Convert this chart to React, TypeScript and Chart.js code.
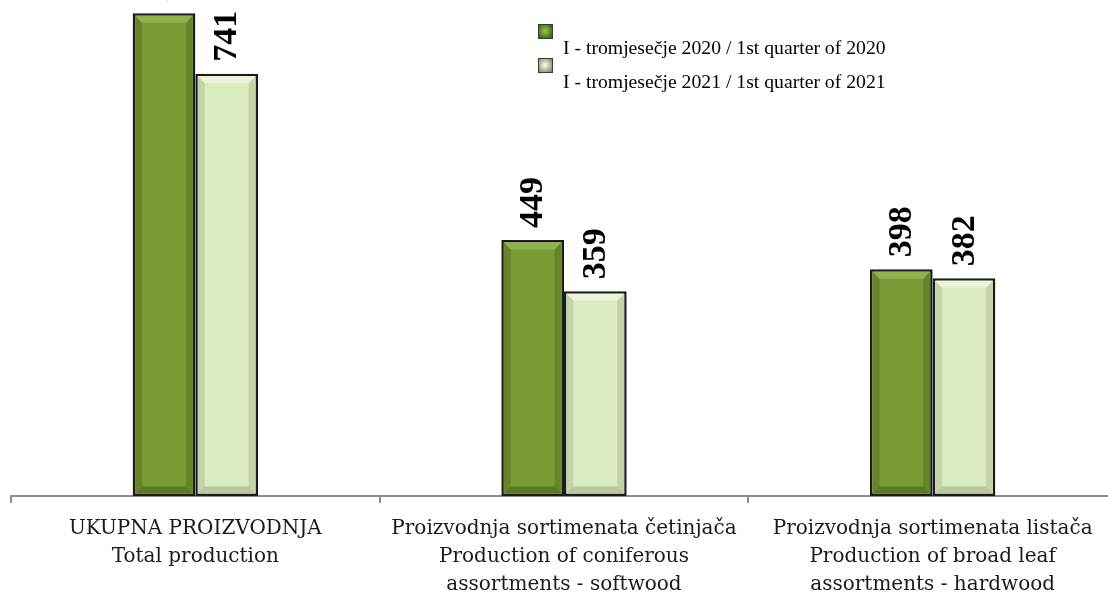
import React, { useEffect, useRef } from "react";
import { Chart, registerables } from "chart.js";

Chart.register(...registerables);

const categories: string[][] = [
  ["UKUPNA PROIZVODNJA", "Total production"],
  ["Proizvodnja sortimenata četinjača", "Production of coniferous", "assortments - softwood"],
  ["Proizvodnja sortimenata listača", "Production of broad leaf", "assortments - hardwood"],
];
const seriesNames = [
  "I - tromjesečje 2020 / 1st quarter of 2020",
  "I - tromjesečje 2021 / 1st quarter of 2021",
];
const values2020 = [847, 449, 398];
const values2021 = [741, 359, 382];

const faceColors = ["#7a9b36", "#dcecc1"];
const bevelTop = ["#9dbb58", "#f1f8e2"];
const bevelSide = ["#5d7d22", "#b9c9a0"];
const bevelBottom = ["#4f6b1a", "#a9b98f"];

const bevelPlugin = {
  id: "bevel",
  afterDatasetsDraw(chart: any) {
    const ctx = chart.ctx;
    chart.data.datasets.forEach((ds: any, di: number) => {
      const meta = chart.getDatasetMeta(di);
      meta.data.forEach((bar: any) => {
        const p = bar.getProps(["x", "y", "base", "width"], true);
        const bw = 2.5;
        const l = p.x - p.width / 2 + bw;
        const r = p.x + p.width / 2 - bw;
        const t = p.y + bw;
        const b = p.base - bw;
        const s = 7;
        ctx.save();
        const poly = (pts: number[][], col: string) => {
          ctx.beginPath();
          ctx.moveTo(pts[0][0], pts[0][1]);
          for (let i = 1; i < pts.length; i++) ctx.lineTo(pts[i][0], pts[i][1]);
          ctx.closePath();
          ctx.fillStyle = col;
          ctx.fill();
        };
        ctx.globalAlpha = 0.7;
        poly([[l, t], [l + s, t + s], [l + s, b - s], [l, b]], bevelSide[di]);
        poly([[r, t], [r - s, t + s], [r - s, b - s], [r, b]], bevelSide[di]);
        poly([[l, b], [l + s, b - s], [r - s, b - s], [r, b]], bevelBottom[di]);
        poly([[l, t], [r, t], [r - s, t + s], [l + s, t + s]], bevelTop[di]);
        ctx.restore();
      });
    });
  },
};

const valueLabelPlugin = {
  id: "valueLabels",
  afterDatasetsDraw(chart: any) {
    const ctx = chart.ctx;
    ctx.save();
    ctx.font = "bold 34px 'Liberation Serif'";
    ctx.fillStyle = "#000";
    ctx.textAlign = "left";
    ctx.textBaseline = "middle";
    chart.data.datasets.forEach((ds: any, di: number) => {
      const meta = chart.getDatasetMeta(di);
      meta.data.forEach((bar: any, i: number) => {
        const p = bar.getProps(["x", "y"], true);
        ctx.save();
        ctx.translate(p.x + 1, p.y - 12);
        ctx.rotate(-Math.PI / 2);
        ctx.fillText(String(ds.data[i]), 0, 0);
        ctx.restore();
      });
    });
    ctx.restore();
  },
};

const legendPlugin = {
  id: "customLegend",
  afterDraw(chart: any) {
    const ctx = chart.ctx;
    const ca = chart.chartArea;
    const x0 = ca.left + 527;
    const y0 = ca.top + 41;
    ctx.save();
    seriesNames.forEach((name, i) => {
      const by = y0 + i * 34;
      const g = ctx.createRadialGradient(x0 + 7, by + 7, 1, x0 + 7, by + 7, 10);
      if (i === 0) {
        g.addColorStop(0, "#8fbf3a");
        g.addColorStop(1, "#2f4a12");
      } else {
        g.addColorStop(0, "#eef6dc");
        g.addColorStop(1, "#6e7a5e");
      }
      ctx.fillStyle = g;
      ctx.fillRect(x0, by, 15, 15);
      ctx.strokeStyle = "#3a3a3a";
      ctx.lineWidth = 1;
      ctx.strokeRect(x0 + 0.5, by + 0.5, 14, 14);
      ctx.fillStyle = "#000";
      ctx.font = "19.7px 'Liberation Serif'";
      ctx.textAlign = "left";
      ctx.textBaseline = "alphabetic";
      ctx.fillText(name, x0 + 25, by + 30);
    });
    ctx.restore();
  },
};

export default function App() {
  const ref = useRef<HTMLCanvasElement | null>(null);
  useEffect(() => {
    if (!ref.current) return;
    const chart = new Chart(ref.current, {
      type: "bar",
      data: {
        labels: categories,
        datasets: [
          {
            label: seriesNames[0],
            data: values2020,
            backgroundColor: faceColors[0],
            borderColor: "#1b1b1b",
            borderWidth: 2.5,
            borderSkipped: false,
          },
          {
            label: seriesNames[1],
            data: values2021,
            backgroundColor: faceColors[1],
            borderColor: "#1b1b1b",
            borderWidth: 2.5,
            borderSkipped: false,
          },
        ],
      },
      options: {
        responsive: false,
        maintainAspectRatio: false,
        animation: false,
        events: [],
        layout: { padding: { left: 11, right: 0, top: 20, bottom: 0 } },
        datasets: { bar: { categoryPercentage: 0.34, barPercentage: 1 } },
        plugins: { legend: { display: false }, tooltip: { enabled: false }, title: { display: false } },
        scales: {
          x: {
            afterFit: (scale: any) => {
              scale.height = 98;
            },
            grid: {
              display: true,
              drawOnChartArea: false,
              drawTicks: true,
              tickLength: 7,
              color: "#8c8c8c",
              lineWidth: 2,
              offset: true,
            },
            border: { display: true, color: "#8c8c8c", width: 2 },
            ticks: {
              color: "#1a1a1a",
              font: { family: "'DejaVu Serif'", size: 20, lineHeight: 1.4 },
              padding: 12,
              maxRotation: 0,
              autoSkip: false,
            },
          },
          y: { display: false, min: 0, max: 900 },
        },
      },
      plugins: [bevelPlugin, valueLabelPlugin, legendPlugin],
    });
    return () => chart.destroy();
  }, []);
  return (
    <div style={{ position: "fixed", left: 0, top: 0, width: 1108, height: 594, overflow: "hidden", background: "#fff" }}>
      <div style={{ position: "absolute", left: 0, top: -37, width: 1117, height: 631 }}>
        <canvas ref={ref} width={1117} height={631} style={{ width: 1117, height: 631, display: "block" }} />
      </div>
    </div>
  );
}
